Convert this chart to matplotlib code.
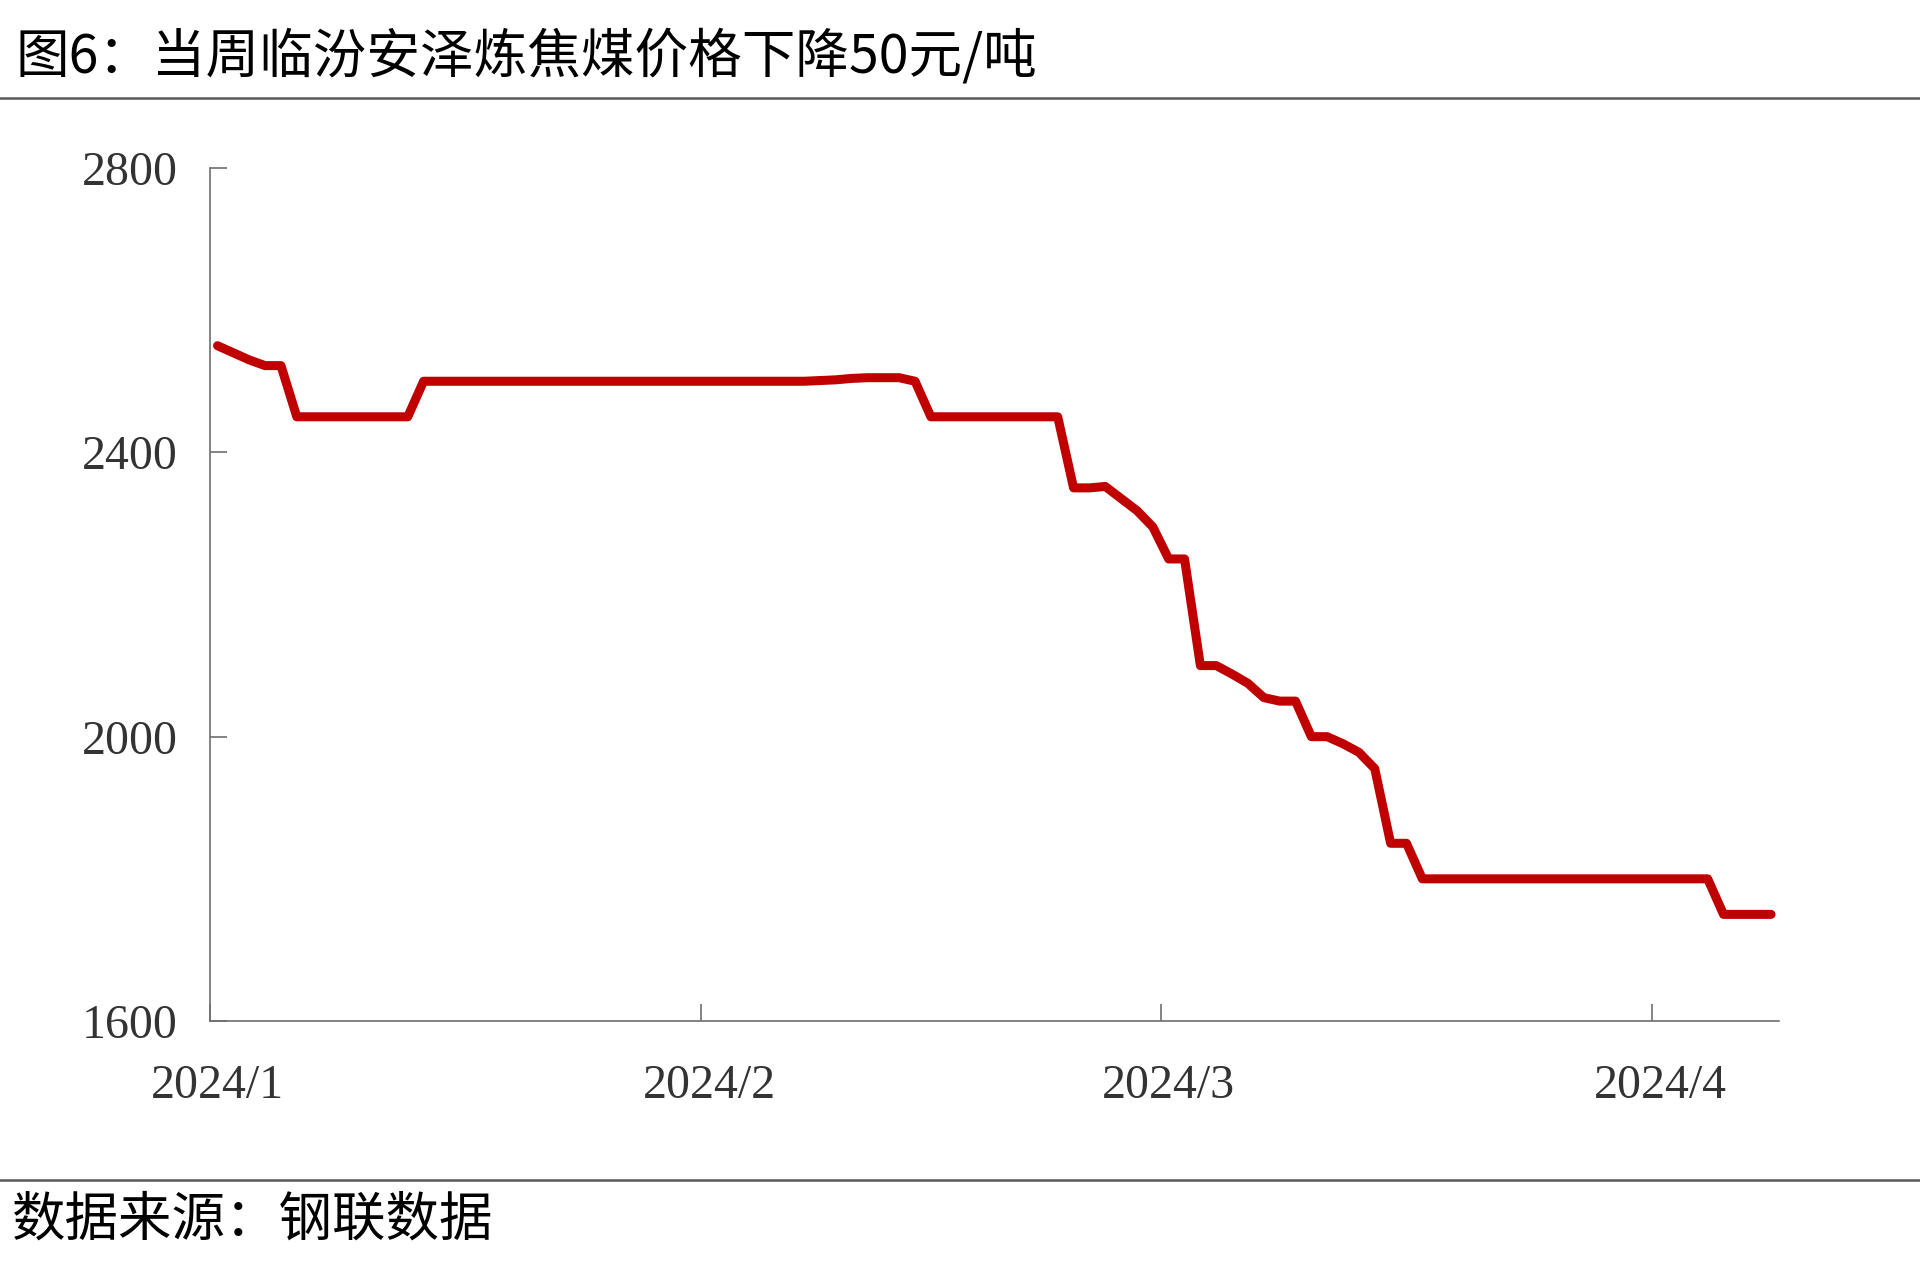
import matplotlib
matplotlib.use("Agg")
import matplotlib.pyplot as plt
import numpy as np
import pandas as pd

plt.rcParams['font.family'] = ['Noto Sans CJK SC', 'DejaVu Sans']

# daily price of Linfen Anze coking coal, 2024/1/1 .. 2024/4/8 (yuan/ton)
start_date = "2024-01-01"
prices = [
    2550, 2540, 2530, 2522, 2522, 2450, 2450, 2450, 2450, 2450,   # Jan 1-10
    2450, 2450, 2450, 2500, 2500, 2500, 2500, 2500, 2500, 2500,   # Jan 11-20
    2500, 2500, 2500, 2500, 2500, 2500, 2500, 2500, 2500, 2500,   # Jan 21-30
    2500, 2500, 2500, 2500, 2500, 2500, 2500, 2500, 2501, 2502,   # Jan 31-Feb 9
    2504, 2505, 2505, 2505, 2500, 2450, 2450, 2450, 2450, 2450,   # Feb 10-19
    2450, 2450, 2450, 2450, 2350, 2350, 2352, 2335, 2318, 2295,   # Feb 20-29
    2250, 2250, 2100, 2100, 2088, 2075, 2055, 2050, 2050, 2000,   # Mar 1-10
    2000, 1990, 1978, 1955, 1850, 1850, 1800, 1800, 1800, 1800,   # Mar 11-20
    1800, 1800, 1800, 1800, 1800, 1800, 1800, 1800, 1800, 1800,   # Mar 21-30
    1800, 1800, 1800, 1800, 1800, 1750, 1750, 1750, 1750,         # Mar 31-Apr 8
]
dates = pd.date_range(start_date, periods=len(prices), freq="D")

yticks = [1600, 2000, 2400, 2800]
month_ticks = pd.to_datetime(["2024-01-01", "2024-02-01", "2024-03-01", "2024-04-01"])
month_labels = ["2024/1", "2024/2", "2024/3", "2024/4"]

title = "图6：当周临汾安泽炼焦煤价格下降50元/吨"
source = "数据来源：钢联数据"

W, H = 1920, 1279
fig = plt.figure(figsize=(W / 100, H / 100), dpi=100)
ax = fig.add_axes([209.6 / W, 1 - 1021 / H, (1779 - 209.6) / W, (1021 - 168) / H])

# excel date axis puts each day's point in the middle of its slot
ax.plot(dates + pd.Timedelta(hours=12), prices, color="#C00000", lw=6.5,
        solid_capstyle="round", solid_joinstyle="round")

ax.set_xlim(pd.Timestamp("2024-01-01"), pd.Timestamp("2024-04-09"))
ax.set_ylim(1600, 2800)

for s in ["top", "right"]:
    ax.spines[s].set_visible(False)
for s in ["left", "bottom"]:
    ax.spines[s].set_color("#6e6e6e")
    ax.spines[s].set_linewidth(1.2)

tick_font = dict(family="Liberation Serif", size=34.5, color="#333333")

ax.set_yticks(yticks)
ax.set_yticklabels([str(v) for v in yticks], fontdict=tick_font)
ax.tick_params(axis="y", direction="in", length=12, width=1.2, color="#6e6e6e", pad=23)

# tick marks at month starts, labels centred on the first day's slot
ax.set_xticks(month_ticks)
ax.set_xticklabels([])
ax.set_xticks(month_ticks + pd.Timedelta(hours=12), minor=True)
ax.set_xticklabels(month_labels, minor=True, fontdict=tick_font)
ax.tick_params(axis="x", which="major", direction="in", length=12, width=1.2, color="#6e6e6e")
ax.tick_params(axis="x", which="minor", length=0, pad=31)

# header and footer rules
fig.add_artist(plt.Line2D([0, 1], [1 - 98 / H, 1 - 98 / H], color="#595959", lw=1.8))
fig.add_artist(plt.Line2D([0, 1], [1 - 1180 / H, 1 - 1180 / H], color="#595959", lw=1.8))

fig.text(15 / W, 1 - 57 / H, title, fontsize=38.6, va="center", ha="left", color="black")
fig.text(12 / W, 1 - 1220 / H, source, fontsize=38.5, va="center", ha="left", color="black")

fig.savefig("out.png", dpi=100)
